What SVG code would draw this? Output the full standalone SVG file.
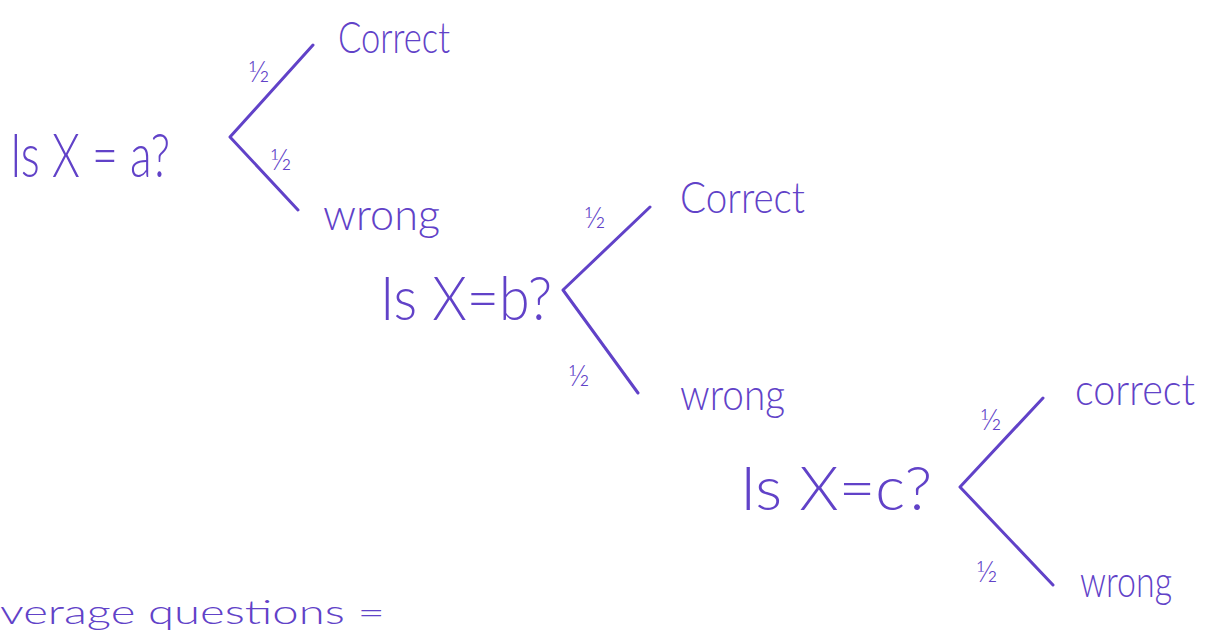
<svg xmlns="http://www.w3.org/2000/svg" width="1213" height="630" viewBox="0 0 1213 630">
<style>
.t{font-family:"Lato","Liberation Sans",sans-serif;font-weight:300;fill:#6142c8}
.q{font-size:62px}
.w{font-size:44px}
.f{font-size:30px}
.c{stroke:#6142c8;stroke-width:3;fill:none;stroke-linecap:round;stroke-linejoin:round}
</style>
<rect width="1213" height="630" fill="#ffffff"/>
<g id="connectors" class="c">
<polyline points="313,45 230,137 298,210"/>
<polyline points="650,207 563,290 638,393"/>
<polyline points="1043,398 960,487 1053,585"/>
</g>
<g id="q1">
<text class="t q" x="10" y="177" textLength="160" lengthAdjust="spacingAndGlyphs">Is X = a?</text>
<text class="t f" x="248" y="82">½</text>
<text class="t f" x="270" y="170">½</text>
</g>
<g id="c1"><text class="t w" x="338" y="53" textLength="112" lengthAdjust="spacingAndGlyphs">Correct</text></g>
<g id="w1"><text class="t w" x="323" y="230" textLength="117" lengthAdjust="spacingAndGlyphs">wrong</text></g>
<g id="q2">
<text class="t q" x="380" y="320" textLength="172" lengthAdjust="spacingAndGlyphs">Is X=b?</text>
<text class="t f" x="584" y="228">½</text>
<text class="t f" x="568" y="386">½</text>
</g>
<g id="c2"><text class="t w" x="680" y="213" textLength="125" lengthAdjust="spacingAndGlyphs">Correct</text></g>
<g id="w2"><text class="t w" x="680" y="410" textLength="105" lengthAdjust="spacingAndGlyphs">wrong</text></g>
<g id="q3">
<text class="t q" x="740" y="510" textLength="192" lengthAdjust="spacingAndGlyphs">Is X=c?</text>
<text class="t f" x="980" y="430">½</text>
<text class="t f" x="976" y="582">½</text>
</g>
<g id="c3"><text class="t w" x="1075" y="405" textLength="120" lengthAdjust="spacingAndGlyphs">correct</text></g>
<g id="w3"><text class="t w" x="1080" y="597" textLength="92" lengthAdjust="spacingAndGlyphs">wrong</text></g>
<g id="footer"><text class="t" font-size="34" x="0" y="624" textLength="385" lengthAdjust="spacingAndGlyphs">verage   questions =</text></g>
</svg>
